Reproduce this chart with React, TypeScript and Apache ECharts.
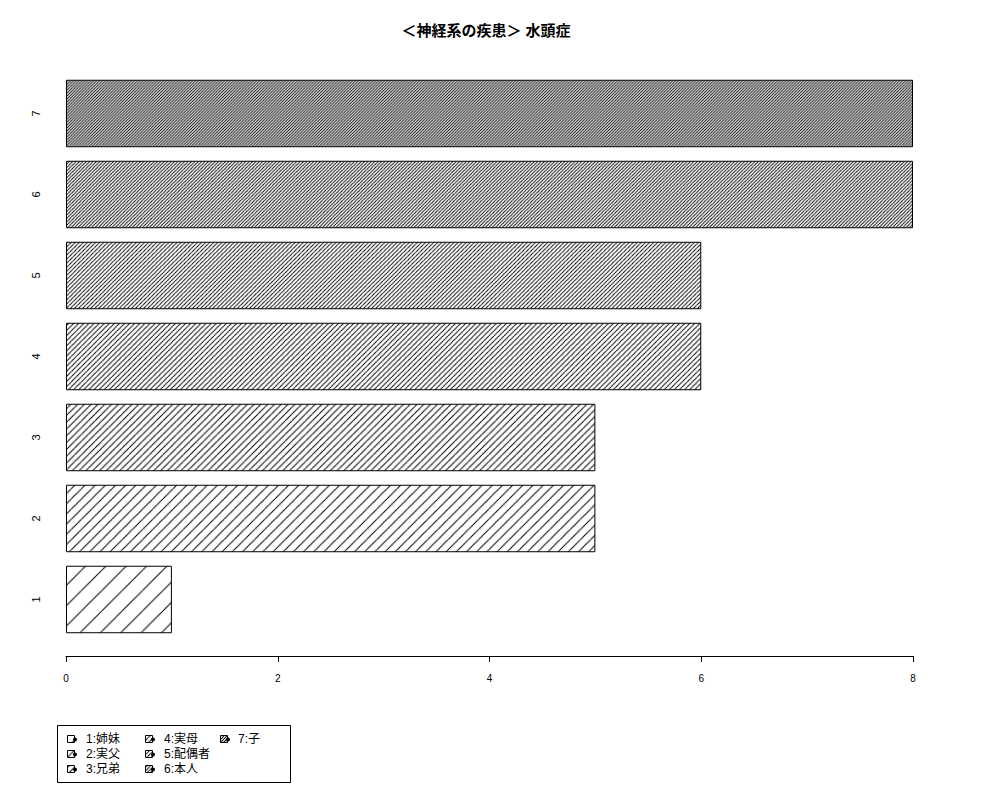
import { useEffect, useRef } from "react";
import * as echarts from "echarts";

const TITLE = "＜神経系の疾患＞ 水頭症";
const CATEGORIES = ["1", "2", "3", "4", "5", "6", "7"];
const VALUES = [1, 5, 5, 6, 6, 8, 8];
// hatch density (lines per inch), one per bar
const DENSITIES = [5, 10, 15, 20, 25, 30, 35];
const LEGEND_LABELS = [
  "1:姉妹",
  "2:実父",
  "3:兄弟",
  "4:実母",
  "5:配偶者",
  "6:本人",
  "7:子",
];

const FONT = "'Liberation Sans', 'Noto Sans CJK JP', sans-serif";

function hatchPattern(density: number) {
  const h = (72 / density) * Math.SQRT2;
  const sw = (10 / h).toFixed(3);
  const svg =
    `<svg xmlns='http://www.w3.org/2000/svg' width='${h}' height='${h}' viewBox='0 0 10 10'>` +
    `<path d='M-10 10L0 0M0 10L10 0M10 10L20 0' stroke='black' stroke-width='${sw}' fill='none'/></svg>`;
  return {
    image: "data:image/svg+xml;charset=utf-8," + encodeURIComponent(svg),
    repeat: "repeat",
    imageWidth: h,
    imageHeight: h,
  };
}

export default function App() {
  const ref = useRef<HTMLDivElement | null>(null);

  useEffect(() => {
    document.body.style.margin = "0";
    const el = ref.current;
    if (!el) return;
    const chart = echarts.init(el, null, { renderer: "svg" });

    const legendColX = [67, 145, 220];
    const legendTextX = [86, 164, 238];
    const legendRowY = [739, 754, 769];

    const legendItems: any[] = [];
    LEGEND_LABELS.forEach((label, i) => {
      const col = Math.floor(i / 3);
      const row = i % 3;
      const x = legendColX[col];
      const y = legendRowY[row];
      legendItems.push(
        {
          type: "rect",
          shape: { x: x + 0.5, y: y - 3.5, width: 7, height: 7 },
          style: {
            fill: hatchPattern(DENSITIES[i]),
            stroke: "#000",
            lineWidth: 1,
          },
        },
        {
          type: "circle",
          shape: { cx: x + 8, cy: y + 0.5, r: 2 },
          style: { fill: "#000" },
        },
        {
          type: "text",
          x: legendTextX[col],
          y: y,
          style: {
            text: label,
            fill: "#000",
            font: `12px ${FONT}`,
            verticalAlign: "middle",
          },
        },
      );
    });

    chart.setOption({
      animation: false,
      backgroundColor: "#fff",
      textStyle: { fontFamily: FONT },
      grid: { left: 66, right: 87, top: 73, bottom: 160 },
      xAxis: {
        type: "value",
        min: 0,
        max: 8,
        interval: 2,
        offset: 16,
        splitLine: { show: false },
        axisLine: { show: true, lineStyle: { color: "#000", width: 1 } },
        axisTick: { show: true, length: 6, lineStyle: { color: "#000" } },
        axisLabel: { color: "#000", fontSize: 10, margin: 17 },
      },
      yAxis: {
        type: "category",
        data: CATEGORIES,
        axisLine: { show: false },
        axisTick: { show: false },
        axisLabel: {
          color: "#000",
          fontSize: 11,
          rotate: 90,
          margin: 30,
          align: "center",
          verticalAlign: "middle",
        },
      },
      series: [
        {
          type: "bar",
          barCategoryGap: "16.7%",
          data: VALUES.map((v, i) => ({
            value: v,
            itemStyle: {
              color: hatchPattern(DENSITIES[i]),
              borderColor: "#000",
              borderWidth: 1,
            },
          })),
          emphasis: { disabled: true },
        },
      ],
      graphic: [
        {
          type: "text",
          x: 486,
          y: 30,
          style: {
            text: TITLE,
            fill: "#000",
            font: `bold 15px ${FONT}`,
            align: "center",
            verticalAlign: "middle",
          },
        },
        {
          type: "rect",
          shape: { x: 57.5, y: 725.5, width: 233, height: 57 },
          style: { fill: "none", stroke: "#000", lineWidth: 1 },
        },
        ...legendItems,
      ],
    });

    return () => chart.dispose();
  }, []);

  return <div ref={ref} style={{ width: 1000, height: 800 }} />;
}
